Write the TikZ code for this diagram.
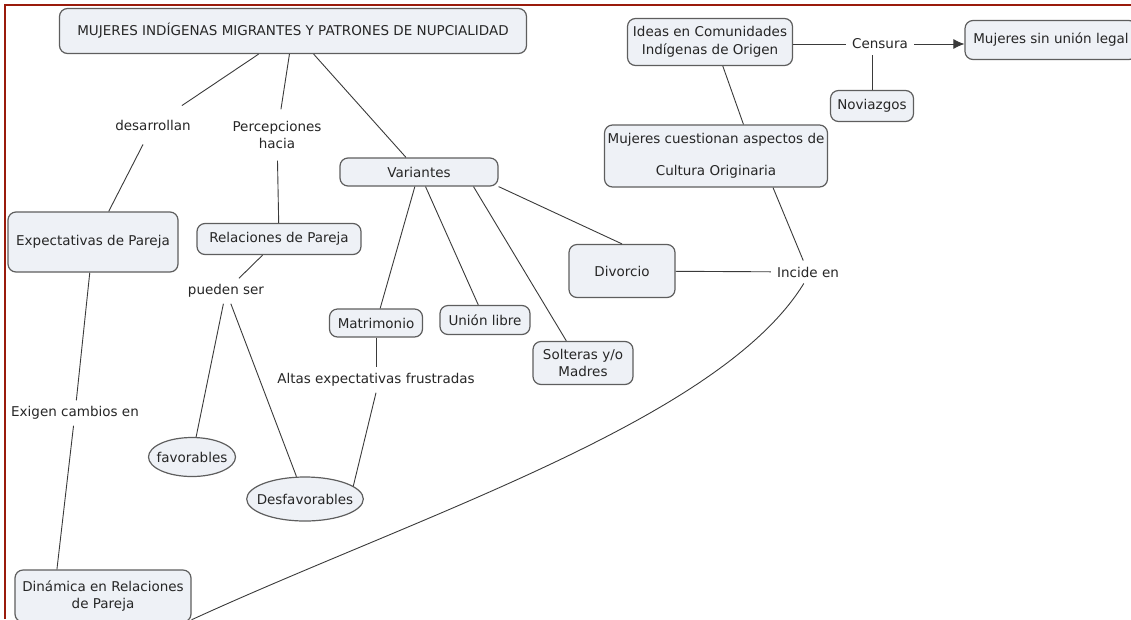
\documentclass[tikz,border=0pt]{standalone}
\usepackage{fontspec}
\setmainfont{DejaVu Sans}
\usetikzlibrary{shapes.geometric, arrows.meta}

\definecolor{boxfill}{HTML}{EEF1F6}
\definecolor{boxline}{HTML}{5E5E5E}
\definecolor{wire}{HTML}{3A3A3A}
\definecolor{ink}{HTML}{262626}
\definecolor{frame}{HTML}{9A1B0C}
\newcommand{\mapfont}{\fontsize{13.5}{16.5}\selectfont}

\begin{document}
\begin{tikzpicture}[x = 1pt, y = -1pt,
concept/.style = { rectangle, rounded corners = 8pt, draw = boxline, fill = boxfill, line width = 1.2pt,
text = ink, font = \mapfont, align = center, inner sep = 2pt},
oval/.style = { ellipse, draw = boxline, fill = boxfill, line width = 1.2pt, text = ink, font = \mapfont,
inner xsep = -7pt, inner ysep = 0pt},
link/.style = { font = \mapfont, text = ink, align = center, inner sep = 6pt},
arc/.style = { color = wire, line width = 0.9pt }]
\useasboundingbox (0,0) rectangle (1131,619);
\draw[frame, line width = 2.5pt] (5,619) -- (5,5) -- (1131,5);

% concepts
\node[concept, minimum width = 467pt, minimum height = 45pt] (title) at (293,31) {MUJERES INDÍGENAS MIGRANTES Y PATRONES DE NUPCIALIDAD};
\node[concept, minimum width = 158pt, minimum height = 28pt] (var) at (419,172) {Variantes};
\node[concept, minimum width = 170pt, minimum height = 60pt] (exp) at (93,242) {Expectativas de Pareja};
\node[concept, minimum width = 164pt, minimum height = 31pt] (rel) at (279,239) {Relaciones de Pareja};
\node[concept, minimum width = 93pt, minimum height = 28pt] (mat) at (376,323) {Matrimonio};
\node[concept, minimum width = 90pt, minimum height = 29pt] (uni) at (485,320) {Unión libre};
\node[concept, minimum width = 100pt, minimum height = 43pt] (sol) at (583,363) {Solteras y/o\\Madres};
\node[concept, minimum width = 106pt, minimum height = 53pt] (div) at (622,271) {Divorcio};
\node[oval, minimum width = 87pt, minimum height = 39pt] (fav) at (192,457) {favorables};
\node[oval, minimum width = 114pt, minimum height = 44pt] (des) at (305,499) {Desfavorables};
\node[concept, minimum width = 176pt, minimum height = 52pt] (din) at (103,596) {Dinámica en Relaciones\\de Pareja};
\node[concept, minimum width = 165pt, minimum height = 47pt] (ideas) at (710,42) {Ideas en Comunidades\\[1pt]Indígenas de Origen};
\node[concept, minimum width = 172pt, minimum height = 39pt] (mul) at (1051,40) {Mujeres sin unión legal};
\node[concept, minimum width = 83pt, minimum height = 31pt] (nov) at (872,106) {Noviazgos};
\node[concept, minimum width = 223pt, minimum height = 62pt] (cue) at (716,156) {Mujeres cuestionan aspectos de\\[15pt]Cultura Originaria};

% linking phrases
\node[link, inner sep = 14pt] (desa) at (153,125) {desarrollan};
\node[link, inner sep = 12pt] (perc) at (277,135) {Percepciones\\hacia};
\node[link] (pue) at (226,291) {pueden ser};
\node[link] (alt) at (376,380) {Altas expectativas frustradas};
\node[link] (exi) at (75,413) {Exigen cambios en};
\node[link] (cen) at (880,44) {Censura};
\node[link] (inc) at (808,272) {Incide en};

% connections
\draw[arc] (title) -- (desa);
\draw[arc] (desa) -- (exp);
\draw[arc] (title) -- (perc);
\draw[arc] (perc) -- (rel);
\draw[arc] (title) -- (var);
\draw[arc] (rel) -- (pue);
\draw[arc] (pue) -- (fav);
\draw[arc] (pue) -- (des);
\draw[arc] (var) -- (mat);
\draw[arc] (var) -- (uni);
\draw[arc] (var.-15) -- (sol.127);
\draw[arc] (var.south east) -- (div.north);
\draw[arc] (mat) -- (alt);
\draw[arc] (alt.south) -- (des.15);
\draw[arc] (exp) -- (exi);
\draw[arc] (exi) -- (din.150);
\draw[arc] (div) -- (inc);
\draw[arc] (ideas.-62) -- (cue.49);
\draw[arc] (cue.-29) -- (inc);
\draw[arc] (inc.250) .. controls (720,420) and (420,515) .. (din.-15);
\draw[arc] (ideas.east |- cen) -- (cen);
\draw[arc, -{Latex[length = 11pt, width = 10pt]}] (cen) -- (cen -| mul.west);
\draw[arc] (nov.north) -- (nov.north |- cen.south);
\end{tikzpicture}
\end{document}
